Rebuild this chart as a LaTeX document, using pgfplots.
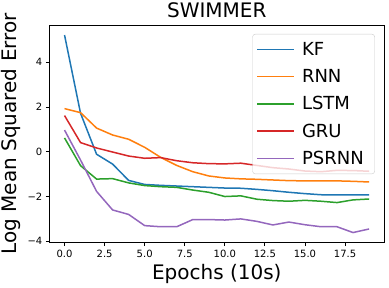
\documentclass[border=0pt]{standalone}
\usepackage{fontspec}
\setmainfont{DejaVu Sans}
\usepackage{pgfplots}
\pgfplotsset{compat=1.18}
\definecolor{c1}{HTML}{1F77B4}
\definecolor{c2}{HTML}{FF7F0E}
\definecolor{c3}{HTML}{2CA02C}
\definecolor{c4}{HTML}{D62728}
\definecolor{c5}{HTML}{9467BD}
\begin{document}
\begin{tikzpicture}
\path[use as bounding box] (-49.3pt,-45.3pt) rectangle (339.7pt,242.7pt);
\begin{axis}[
  at={(0,0)}, anchor=south west,
  scale only axis, width=335pt, height=217.7pt,
  xmin=-0.95, xmax=19.95, ymin=-4.063, ymax=5.667,
  xtick={0,2.5,5,7.5,10,12.5,15,17.5},
  xticklabels={0.0,2.5,5.0,7.5,10.0,12.5,15.0,17.5},
  ytick={-4,-2,0,2,4},
  yticklabels={−4,−2,0,2,4},
  tick align=outside, major tick length=3.5pt,
  xtick pos=bottom, ytick pos=left,
  tick style={black, line width=0.8pt},
  axis line style={line width=0.8pt},
  ticklabel style={font=\fontsize{10}{12}\selectfont},
  title={SWIMMER},
  title style={font=\fontsize{20}{24}\selectfont, yshift=-2pt},
  xlabel={Epochs (10s)},
  ylabel={Log Mean Squared Error},
  label style={font=\fontsize{20}{24}\selectfont},
  legend style={at={(0.972,0.959)}, anchor=north east,
    font=\fontsize{18}{21}\selectfont,
    draw=black!20, fill=white, fill opacity=0.8, text opacity=1,
    rounded corners=3pt, row sep=8.5pt, inner xsep=4pt, inner ysep=6pt,
    nodes={inner xsep=7pt}},
  legend cell align=left,
  legend image code/.code={\draw[#1, line width=1.5pt, draw opacity=1] (0pt,0pt) -- (37pt,0pt);},
  every axis plot/.append style={line width=1.5pt},
]
\addplot[c1] coordinates {(0,5.22)(1,1.72)(2,-0.11)(3,-0.55)(4,-1.28)(5,-1.46)(6,-1.50)(7,-1.53)(8,-1.56)(9,-1.59)(10,-1.62)(11,-1.63)(12,-1.68)(13,-1.74)(14,-1.81)(15,-1.87)(16,-1.92)(17,-1.93)(18,-1.93)(19,-1.93)};
\addlegendentry{KF}
\addplot[c2] coordinates {(0,1.93)(1,1.75)(2,1.06)(3,0.75)(4,0.56)(5,0.20)(6,-0.25)(7,-0.61)(8,-0.89)(9,-1.08)(10,-1.17)(11,-1.21)(12,-1.23)(13,-1.26)(14,-1.29)(15,-1.30)(16,-1.30)(17,-1.30)(18,-1.32)(19,-1.35)};
\addlegendentry{RNN}
\addplot[c3] coordinates {(0,0.62)(1,-0.62)(2,-1.22)(3,-1.20)(4,-1.39)(5,-1.51)(6,-1.56)(7,-1.59)(8,-1.71)(9,-1.81)(10,-2.00)(11,-1.97)(12,-2.12)(13,-2.18)(14,-2.21)(15,-2.17)(16,-2.21)(17,-2.27)(18,-2.15)(19,-2.11)};
\addlegendentry{LSTM}
\addplot[c4] coordinates {(0,1.62)(1,0.41)(2,0.17)(3,-0.01)(4,-0.19)(5,-0.29)(6,-0.26)(7,-0.40)(8,-0.49)(9,-0.53)(10,-0.54)(11,-0.51)(12,-0.61)(13,-0.71)(14,-0.77)(15,-0.86)(16,-0.89)(17,-0.83)(18,-0.84)(19,-0.87)};
\addlegendentry{GRU}
\addplot[c5] coordinates {(0,0.97)(1,-0.37)(2,-1.77)(3,-2.60)(4,-2.80)(5,-3.30)(6,-3.35)(7,-3.35)(8,-3.03)(9,-3.03)(10,-3.05)(11,-3.00)(12,-3.11)(13,-3.27)(14,-3.14)(15,-3.26)(16,-3.35)(17,-3.35)(18,-3.61)(19,-3.45)};
\addlegendentry{PSRNN}
\end{axis}
\end{tikzpicture}
\end{document}
